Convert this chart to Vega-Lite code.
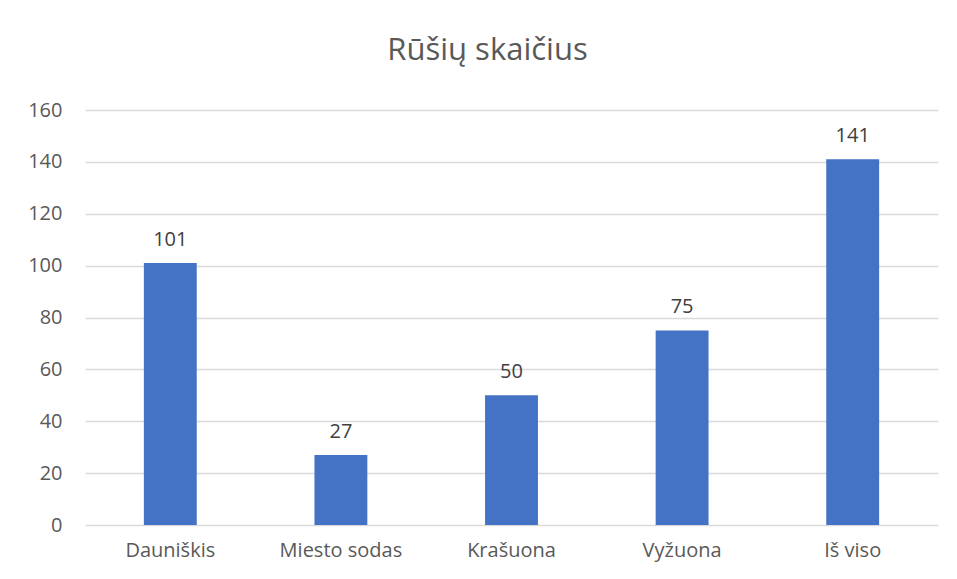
{
  "$schema": "https://vega.github.io/schema/vega-lite/v6.json",
  "autosize": "none",
  "width": 853,
  "height": 415,
  "padding": {"left": 85, "top": 110, "right": 19, "bottom": 54},
  "background": "white",
  "config": {"view": {"stroke": null}, "font": "Open Sans"},
  "title": {
    "text": "Rūšių skaičius",
    "fontSize": 31,
    "font": "Open Sans",
    "fontWeight": "normal",
    "color": "#595959",
    "anchor": "middle",
    "dx": -24,
    "offset": 33
  },
  "data": {
    "values": [
      {"vieta": "Dauniškis", "rusys": 101},
      {"vieta": "Miesto sodas", "rusys": 27},
      {"vieta": "Krašuona", "rusys": 50},
      {"vieta": "Vyžuona", "rusys": 75},
      {"vieta": "Iš viso", "rusys": 141}
    ]
  },
  "encoding": {
    "x": {
      "field": "vieta",
      "type": "nominal",
      "sort": null,
      "scale": {"paddingInner": 0.69, "paddingOuter": 0.345},
      "axis": {
        "title": null,
        "labelAngle": 0,
        "labelFontSize": 20,
        "labelColor": "#595959",
        "labelPadding": 15,
        "ticks": false,
        "domain": false
      }
    },
    "y": {
      "field": "rusys",
      "type": "quantitative",
      "scale": {"domain": [0, 160], "nice": false},
      "axis": {
        "title": null,
        "values": [0, 20, 40, 60, 80, 100, 120, 140, 160],
        "labelFontSize": 20,
        "labelColor": "#595959",
        "labelPadding": 23,
        "ticks": false,
        "domain": false,
        "gridColor": "#D9D9D9",
        "gridWidth": 1.3
      }
    }
  },
  "layer": [
    {"mark": {"type": "bar", "color": "#4472C4"}},
    {
      "mark": {"type": "text", "fontSize": 20, "color": "#404040", "baseline": "alphabetic", "dy": -17},
      "encoding": {"text": {"field": "rusys", "type": "quantitative"}}
    }
  ]
}
